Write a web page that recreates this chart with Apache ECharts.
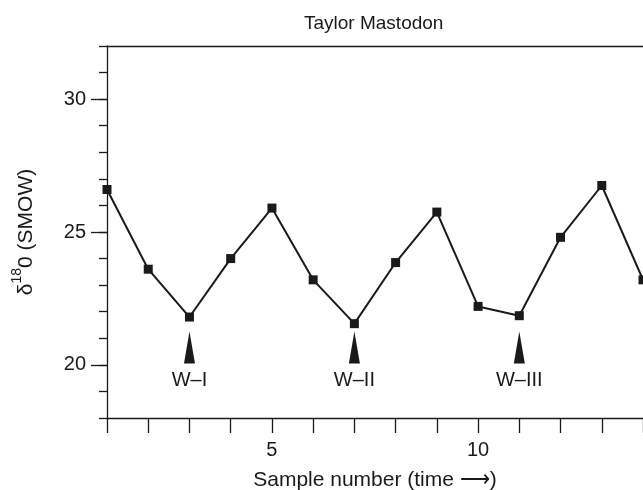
<!DOCTYPE html>
<html>
<head>
<meta charset="utf-8">
<script src="https://cdn.jsdelivr.net/npm/echarts@6/dist/echarts.min.js"></script>
<style>
  html, body { margin: 0; padding: 0; background: #fff; }
  #chart { width: 643px; height: 490px; }
</style>
</head>
<body>
<div id="chart"></div>
<script>
// Oxygen isotope record along the tusk, one value per sample
const samples = [1, 2, 3, 4, 5, 6, 7, 8, 9, 10, 11, 12, 13, 14];
const d18O = [26.6, 23.6, 21.8, 24.0, 25.9, 23.2, 21.55, 23.85, 25.75, 22.2, 21.85, 24.8, 26.75, 23.2];

// Winter minima marked with arrows
const winterSamples = [3, 7, 11];
const winterNames = ['W\u2013I', 'W\u2013II', 'W\u2013III'];
const arrowLevel = 20.65;

// Axis tick values
const yMajorTicks = [20, 25, 30];
const xLabelTicks = [5, 10];

const INK = '#1a1a1a';
const FONT = '"Liberation Sans", Arial, Helvetica, sans-serif';
const FS = 20;

const chart = echarts.init(document.getElementById('chart'), null, { renderer: 'canvas' });

const option = {
  animation: false,
  backgroundColor: '#fff',
  textStyle: { fontFamily: FONT, color: INK },
  title: {
    text: 'Taylor Mastodon',
    left: 299,
    top: 9,
    textStyle: { fontFamily: FONT, fontSize: 19, fontWeight: 'normal', color: INK }
  },
  grid: { left: 107, right: 0, top: 46, bottom: 72, containLabel: false, outerBoundsMode: 'none' },
  xAxis: [
    {
      type: 'value',
      min: 1, max: 14, interval: 1,
      name: 'Sample number (time \u27F6)',
      nameLocation: 'middle',
      nameGap: 52,
      nameTextStyle: { fontFamily: FONT, fontSize: 21, color: INK },
      axisLine: { show: true, onZero: false, lineStyle: { color: INK, width: 1.3 } },
      axisTick: { show: true, inside: false, length: 15, lineStyle: { color: INK, width: 1.3 } },
      axisLabel: {
        margin: 22,
        fontFamily: FONT, fontSize: FS, color: INK,
        formatter: v => (xLabelTicks.indexOf(v) >= 0 ? String(v) : '')
      },
      splitLine: { show: false }
    },
    {
      // top frame line
      type: 'value',
      position: 'top',
      min: 1, max: 14,
      axisLine: { show: true, onZero: false, lineStyle: { color: INK, width: 1.3 } },
      axisTick: { show: false },
      axisLabel: { show: false },
      splitLine: { show: false }
    }
  ],
  yAxis: [
    {
      type: 'value',
      min: 18, max: 32, interval: 1,
      name: '{n|\u03B4}{s|18}{n|0 (SMOW)}',
      nameLocation: 'middle',
      nameRotate: 90,
      nameGap: 70,
      nameTextStyle: {
        fontFamily: FONT, color: INK,
        rich: {
          n: { fontFamily: FONT, fontSize: 21, color: INK, lineHeight: 27, verticalAlign: 'bottom' },
          s: { fontFamily: FONT, fontSize: 14, color: INK, lineHeight: 14, verticalAlign: 'top' }
        }
      },
      axisLine: { show: true, onZero: false, lineStyle: { color: INK, width: 1.3 } },
      axisTick: { show: true, inside: false, length: 16, customValues: yMajorTicks, lineStyle: { color: INK, width: 1.3 } },
      axisLabel: { margin: 21, fontFamily: FONT, fontSize: FS, color: INK, customValues: yMajorTicks },
      splitLine: { show: false }
    },
    {
      // minor ticks at every unit
      type: 'value',
      position: 'left',
      min: 18, max: 32, interval: 1,
      axisLine: { show: false },
      axisTick: { show: true, inside: false, length: 8, lineStyle: { color: INK, width: 1.3 } },
      axisLabel: { show: false },
      splitLine: { show: false }
    }
  ],
  series: [
    {
      type: 'line',
      xAxisIndex: 0,
      yAxisIndex: 0,
      data: samples.map((s, i) => [s, d18O[i]]),
      symbol: 'rect',
      symbolSize: 9,
      clip: false,
      lineStyle: { color: INK, width: 2 },
      itemStyle: { color: INK },
      markPoint: {
        symbol: 'triangle',
        symbolSize: [11, 32],
        itemStyle: { color: INK },
        label: {
          show: true,
          position: 'bottom',
          distance: 7,
          formatter: '{b}',
          fontFamily: FONT, fontSize: FS, color: INK
        },
        data: winterSamples.map((s, i) => ({ name: winterNames[i], coord: [s, arrowLevel] }))
      }
    }
  ]
};

chart.setOption(option);
</script>
</body>
</html>
